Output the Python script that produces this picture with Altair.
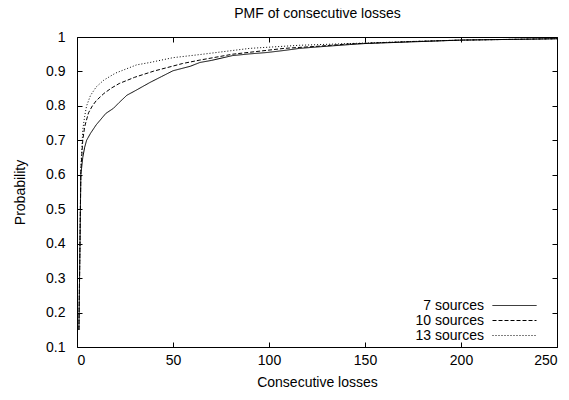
import altair as alt
import pandas as pd

series_names = ["7 sources", "10 sources", "13 sources"]

x7 = [1, 2, 3, 4, 5, 7, 10, 15, 19, 22, 26, 30, 38, 44, 50, 59, 64, 70, 81, 90, 99, 108, 116, 125, 142, 150, 175, 200, 225, 250]
y7 = [0.15, 0.60, 0.65, 0.68, 0.70, 0.72, 0.745, 0.778, 0.793, 0.81, 0.831, 0.843, 0.868, 0.885, 0.902, 0.915, 0.926, 0.932, 0.946, 0.951, 0.955, 0.961, 0.967, 0.971, 0.978, 0.981, 0.986, 0.991, 0.993, 0.995]

x10 = [1, 2, 3, 4, 6, 8, 10, 14, 18, 22, 30, 40, 55, 64, 81, 100, 108, 125, 142, 175, 200, 250]
y10 = [0.15, 0.61, 0.70, 0.74, 0.78, 0.80, 0.815, 0.836, 0.852, 0.865, 0.883, 0.901, 0.923, 0.933, 0.95, 0.962, 0.967, 0.973, 0.98, 0.987, 0.991, 0.995]

x13 = [1, 2, 3, 4, 5, 7, 10, 14, 20, 31, 38, 50, 64, 90, 116, 142, 175, 200, 250]
y13 = [0.15, 0.62, 0.73, 0.77, 0.80, 0.83, 0.855, 0.875, 0.895, 0.919, 0.926, 0.94, 0.949, 0.967, 0.976, 0.981, 0.987, 0.991, 0.995]

x_ticks = [0, 50, 100, 150, 200, 250]
y_ticks = [0.1, 0.2, 0.3, 0.4, 0.5, 0.6, 0.7, 0.8, 0.9, 1.0]

chart_title = "PMF of consecutive losses"

rows = []
for name, xs, ys in zip(series_names, [x7, x10, x13], [y7, y10, y13]):
    for xv, yv in zip(xs, ys):
        rows.append({"series": name, "losses": xv, "prob": yv})
df = pd.DataFrame(rows)

FONT = "Liberation Sans"
FS = 14
W, H = 480, 310
TICK = 5

x_scale = alt.Scale(domain=[0, 250], nice=False)
y_scale = alt.Scale(domain=[0.1, 1.0], nice=False, zero=False)

base = alt.Chart(df)

tick_style = dict(ticks=True, tickSize=TICK, tickColor="black", tickWidth=1, tickOpacity=1,
                  offset=-TICK, domain=False, grid=False, zindex=5)

lines = base.mark_line(color="black", strokeWidth=1).encode(
    x=alt.X("losses:Q", scale=x_scale,
            axis=alt.Axis(orient="bottom", values=x_ticks, labelPadding=6,
                          title="Consecutive losses", titleX=W / 2, titleY=40,
                          titleBaseline="middle", titleAlign="center", **tick_style)),
    y=alt.Y("prob:Q", scale=y_scale,
            axis=alt.Axis(orient="left", values=y_ticks, format=".1~f", labelPadding=12,
                          title="Probability", titleX=-62, titleY=H / 2,
                          titleBaseline="middle", titleAlign="center", titleAngle=270,
                          **tick_style)),
    strokeDash=alt.StrokeDash(
        "series:N",
        scale=alt.Scale(domain=series_names, range=[[1, 0], [4, 2], [1, 2]]),
        legend=alt.Legend(title=None, orient="none", legendX=415, legendY=261,
                          symbolType="stroke", symbolSize=44 * 44, symbolStrokeWidth=1,
                          symbolStrokeColor="black", labelOpacity=0, labelExpr="''",
                          clipHeight=15, padding=0, rowPadding=0),
    ),
)

mirror = base.mark_line(strokeOpacity=0).encode(
    x=alt.X("losses:Q", scale=x_scale,
            axis=alt.Axis(orient="top", values=x_ticks, labels=False, title=chart_title,
                          titleX=W / 2, titleY=-25, titleBaseline="alphabetic",
                          titleAlign="center", **tick_style)),
    y=alt.Y("prob:Q", scale=y_scale,
            axis=alt.Axis(orient="right", values=y_ticks, labels=False, title=None, **tick_style)),
    color=alt.Color(
        "series:N",
        scale=alt.Scale(domain=series_names, range=["black", "black", "black"]),
        legend=alt.Legend(title=None, orient="none", legendX=393, legendY=261,
                          symbolOpacity=0, symbolSize=0, symbolStrokeWidth=0,
                          labelAlign="right", labelOffset=0, clipHeight=15,
                          padding=0, rowPadding=0),
    ),
)

chart = alt.layer(lines, mirror).resolve_axis(x="independent", y="independent").resolve_legend(
    color="independent", strokeDash="independent"
).properties(
    width=W, height=H,
    autosize=alt.AutoSizeParams(type="none"),
    padding={"left": 69, "top": 29, "right": 4, "bottom": 50},
    background="white",
).configure_view(stroke="black", strokeWidth=1).configure_axis(
    labelFont=FONT, labelFontSize=FS, labelColor="black", titleFont=FONT, titleFontSize=FS,
    titleFontWeight="normal", titleColor="black",
).configure_legend(labelFont=FONT, labelFontSize=FS, labelColor="black")

chart.save("out.html", embed_options={"renderer": "svg", "actions": False})
